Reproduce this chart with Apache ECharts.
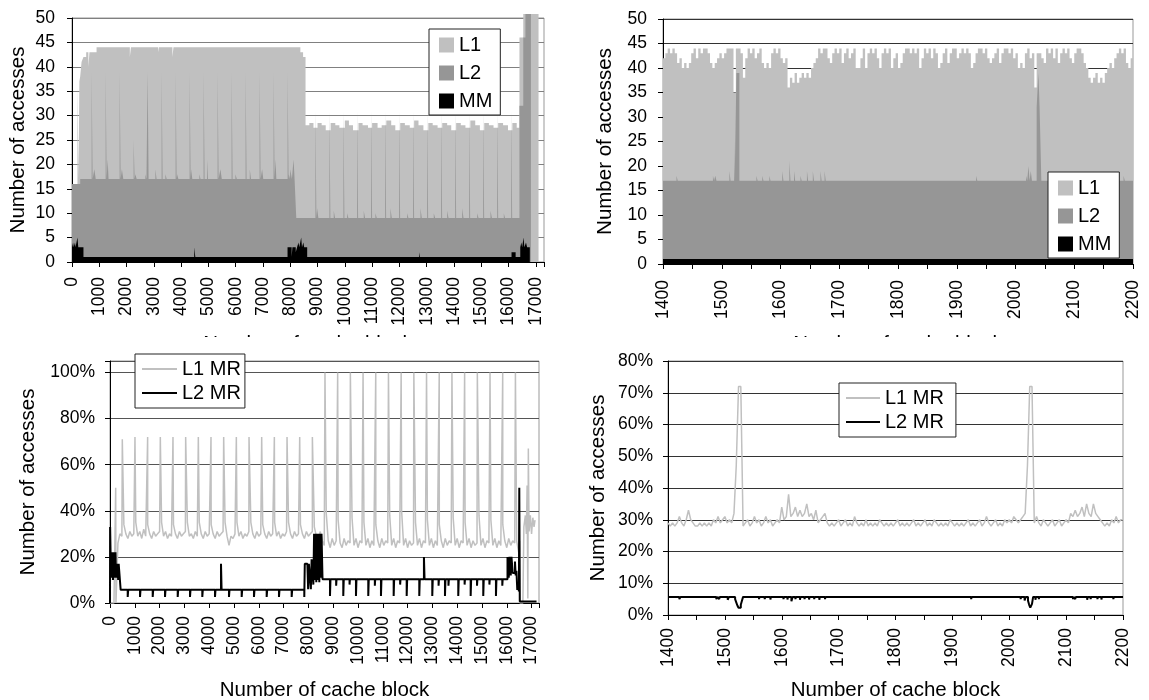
<!DOCTYPE html>
<html><head><meta charset="utf-8">
<script src="https://cdn.jsdelivr.net/npm/echarts@6/dist/echarts.min.js"></script>
<style>
html,body{margin:0;padding:0;background:#fff;width:1149px;height:700px;overflow:hidden}
.q{position:absolute;overflow:hidden}
</style></head><body>
<div id="tl" class="q" style="left:0;top:0;width:575px;height:337px"></div>
<div id="tr" class="q" style="left:575px;top:0;width:574px;height:337px"></div>
<div id="bl" class="q" style="left:0;top:340px;width:575px;height:360px"></div>
<div id="br" class="q" style="left:575px;top:340px;width:574px;height:360px"></div>
<script>
// ---------------- DATA ----------------
// Top-left: accesses per cache block 0..17300, step data [block, cumulative count]
const tlMM = [[0,3],[40,4],[60,3],[110,4],[130,3],[200,5],[230,3],[420,1],[4480,3],[4520,1],[7900,3],[8050,1],[8080,3],[8200,2],[8250,3],[8300,4],[8330,3],[8400,5],[8430,3],[8480,4],[8510,3],[8620,1],[12720,2],[12750,1],[16110,2],[16260,1],[16430,3],[16470,4],[16500,3],[16550,5],[16580,3],[16640,4],[16680,3],[16780,0],[17300,0]];
const tlL2 = [[0,16],[300,17],[720,39],[755,17],[818,19],[870,17],[1233,39],[1268,17],[1307,21],[1340,17],[1746,39],[1781,17],[1829,19],[1880,17],[2259,25],[2294,17],[2323,18],[2370,17],[2690,18],[2730,17],[2772,39],[2807,17],[3056,19],[3100,17],[3285,39],[3320,17],[3423,18],[3470,17],[3798,39],[3833,17],[3851,18],[3900,17],[4311,39],[4346,17],[4364,19],[4410,17],[4669,18],[4710,17],[4824,39],[4859,17],[4950,21],[4985,17],[5337,39],[5372,17],[5440,19],[5490,17],[5850,39],[5885,17],[5990,18],[6040,17],[6363,39],[6398,17],[6516,19],[6560,17],[6876,39],[6911,17],[6968,19],[7010,17],[7389,39],[7424,17],[7457,21],[7490,17],[7902,39],[7937,17],[7946,18],[7990,17],[8000,19],[8060,17],[8120,21],[8150,18],[8220,9],
  [8922,31],[8957,9],[8984,11],[9030,9],[9435,31],[9470,9],[9594,10.5],[9640,9],[9949,31],[9984,9],[10083,10],[10130,9],[10451,31],[10486,9],[10694,10.5],[10740,9],[10964,31],[10999,9],[11122,10],[11170,9],[11478,31],[11513,9],[11672,11],[11720,9],[11991,31],[12026,9],[12283,10],[12330,9],[12504,31],[12539,9],[12773,11],[12820,9],[13018,31],[13053,9],[13260,10],[13310,9],[13531,31],[13566,9],[13751,10.5],[13800,9],[14045,31],[14080,9],[14301,11],[14350,9],[14558,31],[14593,9],[14851,10],[14900,9],[15071,31],[15106,9],[15339,10.5],[15390,9],[15585,31],[15620,9],[15827,10],[15870,9],[16098,31],[16133,9],[16400,32],[16540,46],[16620,50.8],[16820,0],[17300,0]];
const tlL1 = [[0,16],[200,36],[240,17],[270,37],[300,38],[350,41],[420,42],[520,43],[600,40],[640,43],[900,44],[2120,42],[2160,44],[3160,43],[3190,44],[3680,42],[3720,44],[8370,43],[8470,42],
  [8560,28],[8700,28.5],[8850,27.5],[9000,28.5],[9150,28],[9300,27],[9480,28.5],[9650,28],[9800,27.5],[10000,29],[10150,28],[10300,27],[10500,28.5],[10650,28],[10850,27.5],[11000,28.5],[11200,27.5],[11350,28],[11520,29],[11700,28],[11850,27],[12030,28.5],[12200,28],[12380,27.5],[12540,29],[12700,28],[12880,27],[13060,28.5],[13220,28],[13400,27.5],[13570,28.5],[13750,28],[13900,27],[14080,28.5],[14250,28],[14420,27.5],[14600,29],[14780,28],[14950,27],[15110,28.5],[15280,28],[15450,27.5],[15620,28.5],[15800,28],[15980,27],[16140,28.5],[16300,27.5],[16400,46],[16540,50.8],[17100,0],[17300,0]];

// Top-right: blocks 1400..2200; L1 top per 4-block bin
const trL1Bins = [
 42,43,44,43,44,43,41,42,40,41, 40,41,43,44,42,44,43,44,44,43, 41,40,41,42,43,42,43,44,44,44,
 35,44,44,43,38,42,44,43,44,42, 43,44,41,40,41,40,43,44,43,44, 42,41,42,36,38,37,39,37,38,39,
 38,39,38,40,41,42,44,43,44,44, 42,41,43,44,43,44,41,43,44,42, 43,44,40,40,42,44,40,43,44,43,
 44,42,40,43,44,43,44,40,42,43, 40,41,43,44,44,43,44,43,44,40, 42,44,43,44,42,44,43,40,41,43,
 44,41,43,44,44,42,43,44,43,44, 43,40,41,43,44,44,43,44,42,41, 42,43,44,41,43,44,44,43,44,42,
 43,40,41,40,43,44,42,43,36,43, 43,42,41,44,43,44,42,44,41,43, 44,43,44,42,41,43,44,44,43,41,
 40,38,37,38,39,37,38,37,39,40, 41,40,42,43,44,43,44,41,40,42];
const trL2 = [[1400,17],[1423,18],[1425,17],[1485,18],[1487,17],[1489,18],[1491,17],[1513,19],[1515,17],[1521,25],[1522,17],[1525,39],[1530,17],[1559,18],[1561,17],[1569,18],[1571,17],[1581,18],[1583,17],[1603,19],[1605,17],[1615,21],[1617,17],[1623,19],[1625,17],[1634,18],[1636,17],[1645,19],[1647,17],[1655,19],[1657,17],[1668,19],[1670,17],[1675,19],[1677,17],[1933,18],[1935,17],[2018,18],[2020,17],[2022,20],[2024,17],[2026,19],[2028,17],[2036,32],[2039,39],[2041,32],[2044,17],[2133,19],[2135,17],[2141,18],[2143,17],[2150,19],[2152,17],[2157,18],[2159,17],[2184,18],[2186,17],[2200,17]];
const trMM = [[1400,1],[2200,1]];

// Bottom-left: miss rates (%) 0..17300
const blL1Bins = [ // one value per 80 blocks, from block 0
 0,0,0,0,26,30,29,34,30,28, 31,29,30,35,29,31,28,32,29,34, 30,28,31,29,30,31,35,29,31,28,
 30,29,34,30,28,31,29,30,31,35, 29,30,28,31,29,35,30,28,31,29, 30,34,30,28,31,29,30,31,35,29,
 25,29,28,30,35,29,31,28,30,29, 31,35,30,28,31,29,30,34,30,28, 31,29,30,35,29,31,28,30,29,31,
 35,30,28,31,29,30,34,30,28,31, 29,30,31,33,29,28,31,27,25,39, 27,24,28,25,27,36,26,24,28,25,
 27,26,37,25,28,24,27,26,35,25, 28,24,27,25,34,27,24,28,25,27, 26,38,25,28,24,27,26,40,25,28,
 24,27,25,26,35,25,28,24,27,26, 36,25,28,24,27,25,34,27,24,28, 25,27,26,37,25,28,24,27,26,35,
 25,28,24,27,25,26,38,25,28,24, 27,26,36,25,28,24,27,25,34,27, 24,28,25,27,26,27];
const blL1Peaks = [[230,50],[496,71],[1007,72],[1518,72],[2029,72],[2540,72],[3051,72],[3562,72],[4073,72],[4584,72],[5095,72],[5606,72],[6117,72],[6628,72],[7139,72],[7650,72],[8161,72],
 [8669,100],[9181,100],[9693,100],[10205,100],[10717,100],[11229,100],[11741,100],[12253,100],[12765,100],[13277,100],[13789,100],[14301,100],[14813,100],[15325,100],[15837,100],[16349,100],
 [16480,22],[16520,27],[16535,0],[16650,0],[16690,33],[16750,38],[16790,30],[16820,51],[16850,2],[16870,67],[16900,31],[16950,38],[17000,30],[17050,37],[17100,33],[17140,36]];
const blL2 = [[0,0],[5,33],[40,11],[60,22],[80,11],[100,22],[120,10],[140,22],[160,11],[180,22],[200,12],[220,22],[240,11],[260,17],[290,11],[310,17],[330,10],[350,17],[430,5.7],
 [714,2.6],[734,5.7],[1210,2.6],[1230,5.7],[1722,2.6],[1742,5.7],[2218,2.6],[2238,5.7],[2730,2.6],[2750,5.7],[3226,2.6],[3246,5.7],[3722,2.6],[3742,5.7],[4234,2.6],[4254,5.7],[4476,17],[4500,5.7],[4798,2.6],[4818,5.7],[5310,2.6],[5330,5.7],[5806,2.6],[5826,5.7],[6318,2.6],[6338,5.7],[6814,2.6],[6834,5.7],[7326,2.6],[7346,5.7],[7835,2.6],[7855,17],[7960,16.5],[7990,6],[8020,17],[8100,6],[8130,19],[8200,8],[8230,30],[8260,10],[8290,30],[8320,9],[8350,30],[8380,10],[8410,30],[8440,9],[8470,30],[8500,11],[8530,30],[8570,10.3],
 [8871,3],[8891,10.3],[9120,7.5],[9135,10.3],[9407,3],[9427,10.3],[9660,8],[9675,10.3],[9919,3],[9939,10.3],[10415,3],[10435,10.3],[10680,7.5],[10695,10.3],[10927,3],[10947,10.3],[11439,3],[11459,10.3],[11700,8],[11715,10.3],[11964,3],[11984,10.3],[12472,3],[12492,10.3],[12660,20],[12685,10.3],[12996,3],[13016,10.3],[13250,7.5],[13265,10.3],[13508,3],[13528,10.3],[13649,7.5],[13664,10.3],[14044,3],[14064,10.3],[14300,8],[14315,10.3],[14544,3],[14564,10.3],[14800,7.5],[14815,10.3],[15052,3],[15072,10.3],[15300,8],[15315,10.3],[15564,3],[15584,10.3],[15820,7.5],[15835,10.3],
 [16030,20],[16080,11],[16110,20],[16160,12],[16190,20],[16240,13],[16330,18],[16360,12],[16390,14],[16424,5.7],[16460,8],[16490,5],[16505,50],[16525,0.6],[17200,0.6]];

// Bottom-right: miss rates (%) 1400..2200
const brL1Bins = [ // one value per 4 blocks, from block 1400
 29,28,29,28,29,31,29,28,30,33, 30,29,28,28,29,28,29,28,29,28, 30,29,31,29,30,31,29,30,29,32,
 47,72,72,28,29,30,28,29,31,29, 30,28,29,31,29,30,28,29,30,29, 34,30,31,38,31,32,34,31,33,31,
 32,35,31,32,30,33,29,30,31,32, 29,28,29,28,29,30,28,29,30,28, 29,28,31,29,28,29,28,30,28,29,
 28,29,28,30,29,28,29,28,29,28, 29,30,28,29,28,29,28,29,30,28, 29,28,29,30,28,29,28,30,29,28,
 29,28,29,28,30,29,28,29,28,29, 28,29,30,28,29,28,29,30,28,29, 31,29,28,29,30,28,29,28,30,29,
 30,29,31,30,29,30,31,32,47,72, 72,29,31,29,28,30,29,28,29,30, 28,29,30,28,29,30,29,32,31,33,
 31,32,34,31,35,32,31,35,32,31, 30,29,28,29,28,30,29,31,29,30];
const brL2 = [[1400,5.7],[1420,5.0],[1422,5.7],[1485,5.0],[1487,5.7],[1490,5.0],[1491,5.7],[1505,4.8],[1507,5.7],[1518,5.0],[1520,4.0],[1522,3.0],[1524,2.3],[1528,3.2],[1530,4.5],[1532,5.7],[1548,6.1],[1550,5.7],[1560,5.0],[1561,5.7],[1570,5.0],[1571,5.7],[1580,4.9],[1581,5.7],[1603,5.0],[1604,5.7],[1610,4.9],[1611,5.7],[1617,4.3],[1619,5.7],[1624,5.0],[1625,5.7],[1632,4.8],[1633,5.7],[1640,5.0],[1641,5.7],[1648,4.9],[1649,5.7],[1657,5.0],[1658,5.7],[1666,4.8],[1667,5.7],[1676,5.0],[1677,5.7],[1933,5.0],[1934,5.7],[2009,5.2],[2010,5.7],[2020,5.0],[2021,5.7],[2027,4.6],[2029,5.7],[2033,4.5],[2035,3.2],[2037,2.3],[2040,3.5],[2042,5.7],[2046,4.8],[2047,5.7],[2052,5.0],[2053,5.7],[2112,5.0],[2113,5.7],[2116,5.0],[2117,5.7],[2137,4.8],[2138,5.7],[2143,5.0],[2144,5.7],[2155,5.0],[2156,5.7],[2162,4.9],[2163,5.7],[2183,5.0],[2184,5.7],[2200,5.7]];

const barNames = ['L1','L2','MM'];
const lineNames = ['L1 MR','L2 MR'];
const xTitle = 'Number of cache block';
const yTitle = 'Number of accesses';

// ---------------- HELPERS ----------------
const FONT = '"Liberation Sans", Arial, sans-serif';
const TICK_FS = 17.5, NAME_FS = 20.5, LEG_FS = 20;
function binPairs(start, step, vals, end){
  const p = vals.map((v,i)=>[start+step*i, v]);
  p.push([end, vals[vals.length-1]]);
  return p;
}
function xAxis(min,max,interval,labelEvery,margin,nameGap){
  return {type:'value',min,max,interval,
    axisLine:{show:true,onZero:false,lineStyle:{color:'#000',width:1}},
    axisTick:{show:true,length:5,inside:false,lineStyle:{color:'#000',width:1}},
    axisLabel:{show:true,rotate:90,margin,fontSize:TICK_FS,color:'#000',fontFamily:FONT,hideOverlap:false,
      showMinLabel:true,showMaxLabel:true,
      formatter:v=> (Math.round(v)%labelEvery===0 ? String(Math.round(v)) : '')},
    splitLine:{show:false},
    name:xTitle,nameLocation:'middle',nameGap,nameMoveOverlap:false,
    nameTextStyle:{fontSize:NAME_FS,color:'#000',fontFamily:FONT}};
}
function yAxis(min,max,interval,fmt,margin,nameGap,gridColor){
  return {type:'value',min,max,interval,
    axisLine:{show:true,lineStyle:{color:'#000',width:1}},
    axisTick:{show:true,length:5,inside:false,lineStyle:{color:'#000',width:1}},
    axisLabel:{show:true,margin,fontSize:TICK_FS,color:'#000',fontFamily:FONT,formatter:fmt,hideOverlap:false},
    splitLine:{show:true,lineStyle:{color:gridColor,width:1}},
    name:yTitle,nameLocation:'middle',nameGap,nameMoveOverlap:false,
    nameTextStyle:{fontSize:NAME_FS,color:'#000',fontFamily:FONT}};
}
function area(name,data,color,z){
  return {name,type:'line',step:'end',data,symbol:'none',showSymbol:false,clip:false,silent:true,
    lineStyle:{width:0,color},itemStyle:{color},areaStyle:{color,opacity:1},emphasis:{disabled:true},z};
}
function line(name,data,color,width,step,z){
  return {name,type:'line',step:step?'end':false,data,symbol:'none',showSymbol:false,silent:true,
    lineStyle:{width,color},itemStyle:{color},emphasis:{disabled:true},z};
}
function legend(left,top,padding,gap,iw,ih,names){
  return {orient:'vertical',left,top,padding,itemGap:gap,itemWidth:iw,itemHeight:ih,icon:'rect',
    selectedMode:false,backgroundColor:'#fff',borderColor:'#222',borderWidth:1,borderRadius:0,
    itemStyle:{borderWidth:0},
    textStyle:{fontSize:LEG_FS,color:'#000',fontFamily:FONT},data:names};
}
const pct = v => (Math.round(v)%10===0 ? Math.round(v)+'%' : '');

// ---------------- CHARTS ----------------
const cTL = echarts.init(document.getElementById('tl'));
cTL.setOption({animation:false,
  grid:{left:72,top:18,width:472,height:244,show:true,borderColor:'#999',borderWidth:1,outerBoundsMode:'none'},
  legend:legend(429,29,[6,8,4,10],8,15,15,barNames),
  xAxis:xAxis(0,17300,1000,1000,15,72),
  yAxis:yAxis(0,50,5,v=>String(v),17,43,'#808080'),
  series:[area('L1',tlL1,'#c0c0c0',2),area('L2',tlL2,'#969696',3),area('MM',tlMM,'#000000',4)]});

const cTR = echarts.init(document.getElementById('tr'));
cTR.setOption({animation:false,
  grid:{left:88,top:19,width:470,height:245,show:true,borderColor:'#999',borderWidth:1,outerBoundsMode:'none'},
  legend:legend(473,172,[6,8,4,10],8,15,15,barNames),
  xAxis:xAxis(1400,2200,50,100,16,70),
  yAxis:yAxis(0,50,5,v=>String(v),16,47,'#333'),
  series:[area('L1',binPairs(1400,4,trL1Bins,2200),'#c0c0c0',2),area('L2',trL2,'#969696',3),area('MM',trMM,'#000000',4)]});

const cBL = echarts.init(document.getElementById('bl'));
const blL1 = blL1Bins.map((v,i)=>[80*i,v]).concat(blL1Peaks).sort((a,b)=>a[0]-b[0]);
cBL.setOption({animation:false,
  grid:{left:110,top:21,width:429,height:242,show:true,borderColor:'#999',borderWidth:1,outerBoundsMode:'none'},
  legend:legend(135,14,[5,4,5,7],4,35,2,lineNames),
  xAxis:xAxis(0,17300,1000,1000,13,77),
  yAxis:yAxis(0,105,20,v=>(Math.round(v)%20===0 && v<=100 ? Math.round(v)+'%' : ''),15,71,'#555'),
  series:[line('L1 MR',blL1,'#c0c0c0',1.5,false,2),line('L2 MR',blL2,'#000',2,true,3)]});

const cBR = echarts.init(document.getElementById('br'));
cBR.setOption({animation:false,
  grid:{left:93,top:21,width:455,height:254,show:true,borderColor:'#999',borderWidth:1,outerBoundsMode:'none'},
  legend:legend(264,43,[5,12,5,7],4,34,2,lineNames),
  xAxis:xAxis(1400,2200,50,100,13,65),
  yAxis:yAxis(0,80,10,pct,15,59,'#333'),
  series:[line('L1 MR',binPairs(1400,4,brL1Bins,2200),'#c0c0c0',1.5,false,2),line('L2 MR',brL2,'#000',2,true,3)]});
</script>
</body></html>
